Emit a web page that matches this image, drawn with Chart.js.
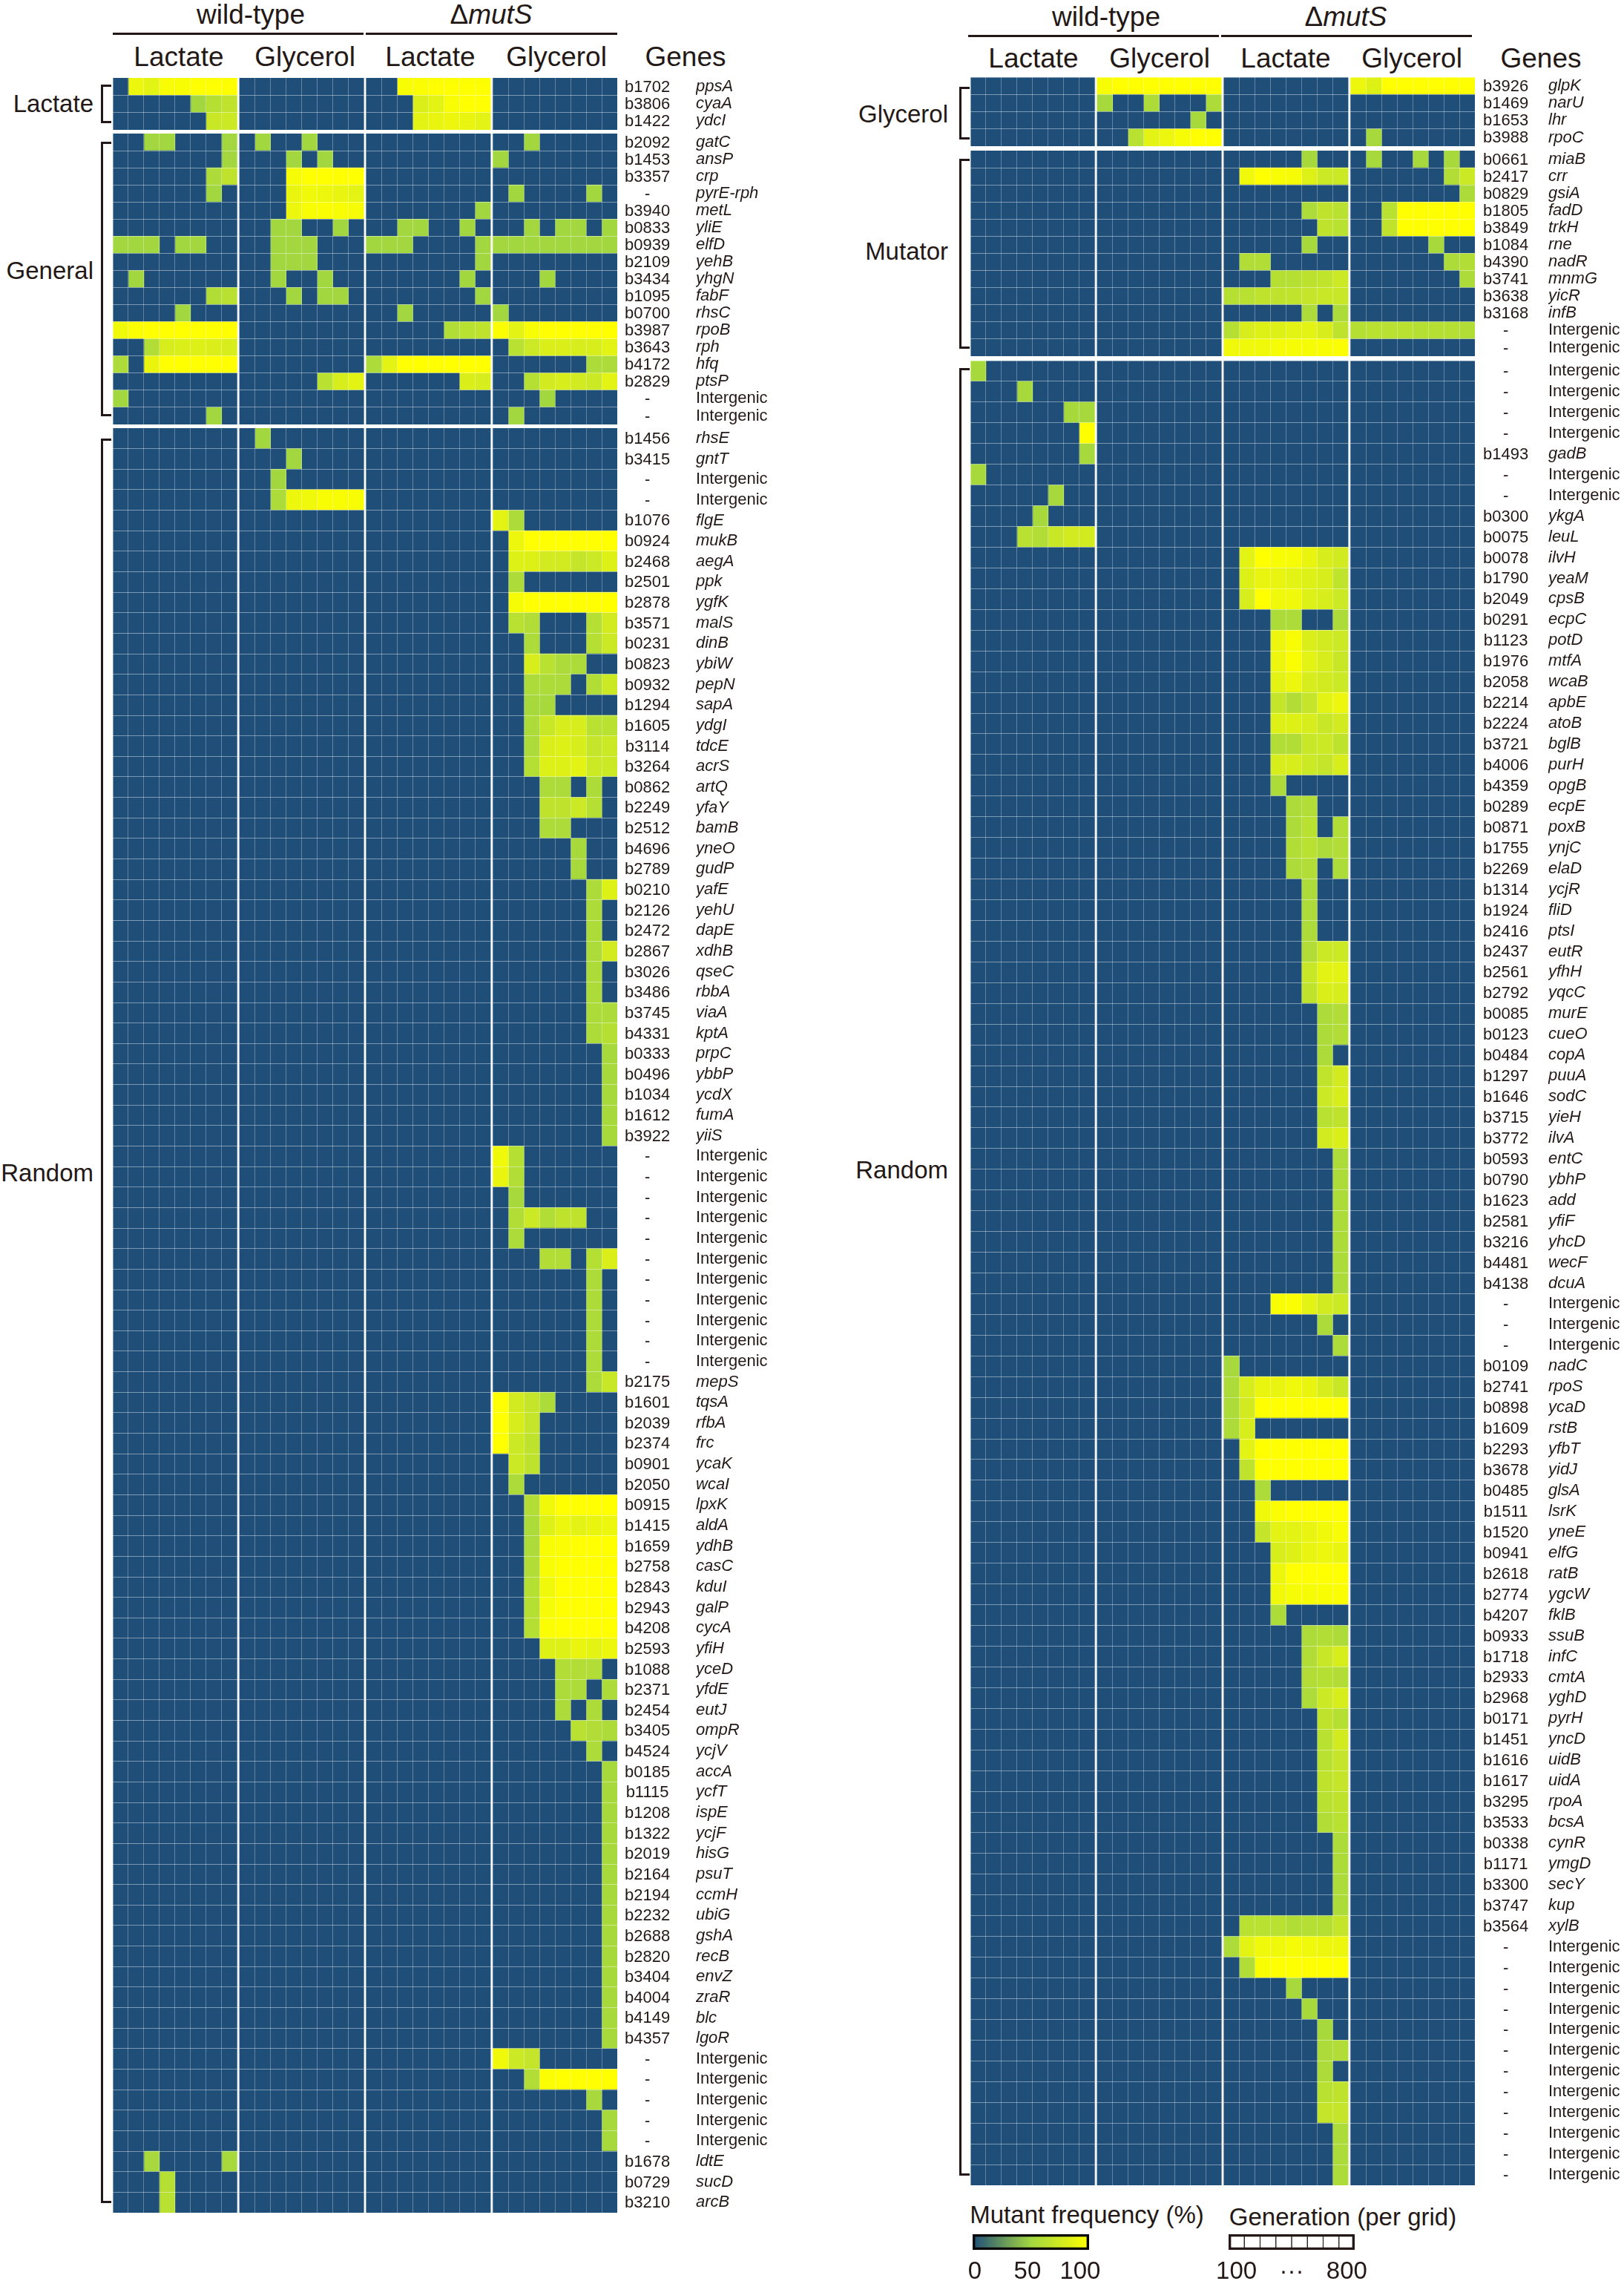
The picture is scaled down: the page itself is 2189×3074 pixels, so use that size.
<!DOCTYPE html>
<html>
<head>
<meta charset="utf-8">
<title>Mutant frequency heatmap</title>
<script src="https://cdn.jsdelivr.net/npm/chart.js@4/dist/chart.umd.min.js"></script>
<style>
    html, body { margin: 0; padding: 0; background: #fff; }
    #page { position: relative; width: 2189px; height: 3074px; overflow: hidden; font-family: "Liberation Sans", Arial, sans-serif; color: #231815; }
    #page canvas { position: absolute; }
    .label { position: absolute; white-space: nowrap; line-height: 1; transform: translate(-50%, -50%); }
    .label.end { transform: translate(-100%, -50%); }
    .rule { position: absolute; background: #231815; }
    .bracket { position: absolute; border: 3px solid #231815; border-right: none; box-sizing: border-box; }
</style>
</head>
<body>
<div id="page"></div>
<script>
// Column numbers in the freq rows: 0-7 wild-type lactate, 8-15 wild-type glycerol,
// 16-23 mutS lactate, 24-31 mutS glycerol. Missing columns are 0 %.

// Left panel, lactate specific
const leftLactateLocus = ['b1702', 'b3806', 'b1422'];
const leftLactateGenes = ['ppsA', 'cyaA', 'ydcI'];
const leftLactateFreq = [
    {1:90,2:85,3:97,4:97,5:100,6:100,7:100,18:97,19:98,20:100,21:100,22:100,23:100},
    {5:50,6:60,7:65,19:80,20:85,21:97,22:100,23:100},
    {6:70,7:72,19:85,20:88,21:90,22:88,23:85}
];

// Left panel, general
const leftGeneralLocus = ['b2092', 'b1453', 'b3357', '-', 'b3940', 'b0833', 'b0939', 'b2109', 'b3434', 'b1095', 'b0700', 'b3987', 'b3643', 'b4172', 'b2829', '-', '-'];
const leftGeneralGenes = ['gatC', 'ansP', 'crp', 'pyrE-rph', 'metL', 'yliE', 'elfD', 'yehB', 'yhgN', 'fabF', 'rhsC', 'rpoB', 'rph', 'hfq', 'ptsP', 'Intergenic', 'Intergenic'];
const leftGeneralFreq = [
    {2:50,3:50,7:50,9:50,12:50,26:50},
    {7:50,11:50,13:50,24:50},
    {6:55,7:65,11:95,12:100,13:100,14:100,15:100},
    {6:50,11:88,12:92,13:90,14:88,15:85,25:50,30:50},
    {11:90,12:97,13:98,14:97,15:95,23:50},
    {10:50,11:50,14:50,18:50,19:50,22:50,26:50,28:50,29:50,31:50},
    {0:50,1:50,2:50,4:50,5:50,10:50,11:50,12:50,16:50,17:50,18:50,23:50,24:50,25:50,26:50,27:50,28:50,29:50,30:50,31:50},
    {10:50,11:50,12:50,23:50},
    {1:50,10:50,13:50,22:50,27:50},
    {6:58,7:62,11:50,13:50,14:50,23:50},
    {4:50,18:50,24:50},
    {0:92,1:98,2:100,3:100,4:100,5:100,6:100,7:100,21:58,22:62,23:65,24:98,25:85,26:97,27:100,28:100,29:100,30:100,31:100},
    {2:58,3:78,4:80,5:82,6:80,7:78,25:62,26:72,27:80,28:80,29:78,30:78,31:85},
    {0:55,2:88,3:100,4:100,5:100,6:100,7:100,16:55,17:85,18:100,19:100,20:100,21:100,22:100,23:100,30:55,31:55},
    {13:62,14:78,15:85,22:80,23:78,26:60,27:75,28:78,29:75,30:72,31:85},
    {0:50,27:50},
    {6:50,25:50}
];

// Left panel, random
const leftRandomLocus = ['b1456', 'b3415', '-', '-', 'b1076', 'b0924', 'b2468', 'b2501', 'b2878', 'b3571', 'b0231', 'b0823', 'b0932', 'b1294', 'b1605', 'b3114', 'b3264', 'b0862', 'b2249', 'b2512', 'b4696', 'b2789', 'b0210', 'b2126', 'b2472', 'b2867', 'b3026', 'b3486', 'b3745', 'b4331', 'b0333', 'b0496', 'b1034', 'b1612', 'b3922', '-', '-', '-', '-', '-', '-', '-', '-', '-', '-', '-', 'b2175', 'b1601', 'b2039', 'b2374', 'b0901', 'b2050', 'b0915', 'b1415', 'b1659', 'b2758', 'b2843', 'b2943', 'b4208', 'b2593', 'b1088', 'b2371', 'b2454', 'b3405', 'b4524', 'b0185', 'b1115', 'b1208', 'b1322', 'b2019', 'b2164', 'b2194', 'b2232', 'b2688', 'b2820', 'b3404', 'b4004', 'b4149', 'b4357', '-', '-', '-', '-', '-', 'b1678', 'b0729', 'b3210'];
const leftRandomGenes = ['rhsE', 'gntT', 'Intergenic', 'Intergenic', 'flgE', 'mukB', 'aegA', 'ppk', 'ygfK', 'malS', 'dinB', 'ybiW', 'pepN', 'sapA', 'ydgI', 'tdcE', 'acrS', 'artQ', 'yfaY', 'bamB', 'yneO', 'gudP', 'yafE', 'yehU', 'dapE', 'xdhB', 'qseC', 'rbbA', 'viaA', 'kptA', 'prpC', 'ybbP', 'ycdX', 'fumA', 'yiiS', 'Intergenic', 'Intergenic', 'Intergenic', 'Intergenic', 'Intergenic', 'Intergenic', 'Intergenic', 'Intergenic', 'Intergenic', 'Intergenic', 'Intergenic', 'mepS', 'tqsA', 'rfbA', 'frc', 'ycaK', 'wcaI', 'lpxK', 'aldA', 'ydhB', 'casC', 'kduI', 'galP', 'cycA', 'yfiH', 'yceD', 'yfdE', 'eutJ', 'ompR', 'ycjV', 'accA', 'ycfT', 'ispE', 'ycjF', 'hisG', 'psuT', 'ccmH', 'ubiG', 'gshA', 'recB', 'envZ', 'zraR', 'blc', 'lgoR', 'Intergenic', 'Intergenic', 'Intergenic', 'Intergenic', 'Intergenic', 'ldtE', 'sucD', 'arcB'];
const leftRandomFreq = [
    {9:50},
    {11:50},
    {10:50},
    {10:55,11:90,12:92,13:97,14:97,15:97},
    {24:85,25:55},
    {25:90,26:100,27:100,28:100,29:100,30:100,31:100},
    {25:82,26:82,27:75,28:75,29:68,30:72,31:82},
    {25:55},
    {25:95,26:100,27:100,28:100,29:100,30:100,31:100},
    {25:62,26:58,30:60,31:75},
    {26:55,30:60,31:72},
    {26:78,27:62,28:55,29:55},
    {26:55,27:55,28:55,30:58,31:72},
    {26:52,27:52},
    {26:55,27:70,28:78,29:78,30:62,31:62},
    {26:55,27:80,28:82,29:78,30:68,31:72},
    {26:60,27:82,28:82,29:85,30:72,31:72},
    {27:55,28:55,30:55},
    {27:65,28:65,29:72,30:60},
    {27:55,28:55},
    {29:52},
    {29:52},
    {30:55,31:82},
    {30:55},
    {30:55},
    {30:55,31:75},
    {30:55},
    {30:55},
    {30:55,31:55},
    {30:55,31:60},
    {31:52},
    {31:52},
    {31:52},
    {31:52},
    {31:52},
    {24:92,25:60},
    {24:88,25:58},
    {25:52},
    {25:58,26:72,27:58,28:65,29:65},
    {25:55},
    {27:58,28:58,30:60,31:80},
    {30:55},
    {30:55},
    {30:55},
    {30:55},
    {30:55},
    {30:55,31:70},
    {24:100,25:75,26:68,27:55},
    {24:100,25:78,26:68},
    {24:100,25:72,26:65},
    {25:72,26:65},
    {25:55},
    {26:58,27:92,28:100,29:100,30:100,31:100},
    {26:55,27:82,28:90,29:85,30:88,31:90},
    {26:55,27:97,28:98,29:100,30:100,31:100},
    {26:58,27:97,28:100,29:100,30:100,31:100},
    {26:60,27:92,28:100,29:100,30:100,31:100},
    {26:60,27:95,28:100,29:100,30:100,31:100},
    {26:60,27:98,28:100,29:100,30:100,31:100},
    {27:82,28:82,29:88,30:85,31:90},
    {28:58,29:58,30:58},
    {28:55,29:55,31:55},
    {28:55,30:55},
    {29:62,30:58,31:55},
    {30:55},
    {31:52},
    {31:52},
    {31:52},
    {31:52},
    {31:52},
    {31:52},
    {31:52},
    {31:52},
    {31:52},
    {31:52},
    {31:52},
    {31:52},
    {31:52},
    {31:52},
    {24:92,25:72,26:68},
    {26:58,27:98,28:100,29:100,30:100,31:100},
    {30:52},
    {31:52},
    {31:52},
    {2:52,7:52},
    {3:60},
    {3:62}
];

// Right panel, glycerol specific
const rightGlycerolLocus = ['b3926', 'b1469', 'b1653', 'b3988'];
const rightGlycerolGenes = ['glpK', 'narU', 'lhr', 'rpoC'];
const rightGlycerolFreq = [
    {8:97,9:100,10:100,11:100,12:100,13:100,14:100,15:100,24:90,25:82,26:100,27:100,28:100,29:100,30:100,31:100},
    {8:52,11:55,15:55},
    {14:52},
    {10:62,11:85,12:90,13:95,14:100,15:100,25:52}
];

// Right panel, mutator specific
const rightMutatorLocus = ['b0661', 'b2417', 'b0829', 'b1805', 'b3849', 'b1084', 'b4390', 'b3741', 'b3638', 'b3168', '-', '-'];
const rightMutatorGenes = ['miaB', 'crr', 'gsiA', 'fadD', 'trkH', 'rne', 'nadR', 'mnmG', 'yicR', 'infB', 'Intergenic', 'Intergenic'];
const rightMutatorFreq = [
    {21:52,25:52,28:52,30:52},
    {17:92,18:100,19:97,20:95,21:82,22:72,23:72,30:58,31:72},
    {31:55},
    {21:55,22:65,23:62,26:62,27:100,28:100,29:100,30:100,31:100},
    {22:65,23:62,26:65,27:100,28:100,29:100,30:100,31:100},
    {21:52,29:52},
    {17:58,18:58,30:55,31:58},
    {19:60,20:60,21:64,22:66,23:72,31:55},
    {16:60,17:62,18:65,19:65,20:66,21:68,22:70,23:70},
    {21:55,23:55},
    {16:60,17:78,18:82,19:82,20:85,21:85,22:78,23:65,24:60,25:62,26:62,27:62,28:60,29:60,30:60,31:58},
    {16:92,17:92,18:92,19:95,20:95,21:95,22:97,23:98}
];

// Right panel, random
const rightRandomLocus = ['-', '-', '-', '-', 'b1493', '-', '-', 'b0300', 'b0075', 'b0078', 'b1790', 'b2049', 'b0291', 'b1123', 'b1976', 'b2058', 'b2214', 'b2224', 'b3721', 'b4006', 'b4359', 'b0289', 'b0871', 'b1755', 'b2269', 'b1314', 'b1924', 'b2416', 'b2437', 'b2561', 'b2792', 'b0085', 'b0123', 'b0484', 'b1297', 'b1646', 'b3715', 'b3772', 'b0593', 'b0790', 'b1623', 'b2581', 'b3216', 'b4481', 'b4138', '-', '-', '-', 'b0109', 'b2741', 'b0898', 'b1609', 'b2293', 'b3678', 'b0485', 'b1511', 'b1520', 'b0941', 'b2618', 'b2774', 'b4207', 'b0933', 'b1718', 'b2933', 'b2968', 'b0171', 'b1451', 'b1616', 'b1617', 'b3295', 'b3533', 'b0338', 'b1171', 'b3300', 'b3747', 'b3564', '-', '-', '-', '-', '-', '-', '-', '-', '-', '-', '-', '-'];
const rightRandomGenes = ['Intergenic', 'Intergenic', 'Intergenic', 'Intergenic', 'gadB', 'Intergenic', 'Intergenic', 'ykgA', 'leuL', 'ilvH', 'yeaM', 'cpsB', 'ecpC', 'potD', 'mtfA', 'wcaB', 'apbE', 'atoB', 'bglB', 'purH', 'opgB', 'ecpE', 'poxB', 'ynjC', 'elaD', 'ycjR', 'fliD', 'ptsI', 'eutR', 'yfhH', 'yqcC', 'murE', 'cueO', 'copA', 'puuA', 'sodC', 'yieH', 'ilvA', 'entC', 'ybhP', 'add', 'yfiF', 'yhcD', 'wecF', 'dcuA', 'Intergenic', 'Intergenic', 'Intergenic', 'nadC', 'rpoS', 'ycaD', 'rstB', 'yfbT', 'yidJ', 'glsA', 'lsrK', 'yneE', 'elfG', 'ratB', 'ygcW', 'fklB', 'ssuB', 'infC', 'cmtA', 'yghD', 'pyrH', 'yncD', 'uidB', 'uidA', 'rpoA', 'bcsA', 'cynR', 'ymgD', 'secY', 'kup', 'xylB', 'Intergenic', 'Intergenic', 'Intergenic', 'Intergenic', 'Intergenic', 'Intergenic', 'Intergenic', 'Intergenic', 'Intergenic', 'Intergenic', 'Intergenic', 'Intergenic'];
const rightRandomFreq = [
    {0:52},
    {3:52},
    {6:52,7:52},
    {7:100},
    {7:52},
    {0:52},
    {5:52},
    {4:52},
    {3:62,4:58,5:70,6:75,7:75},
    {17:85,18:100,19:97,20:95,21:88,22:78,23:75},
    {17:82,18:88,19:88,20:85,21:82,22:78,23:66},
    {17:78,18:100,19:92,20:92,21:82,22:78,23:72},
    {19:55,20:55,23:55},
    {19:90,20:97,21:80,22:75,23:72},
    {19:90,20:98,21:85,22:78,23:70},
    {19:85,20:90,21:78,22:75,23:72},
    {19:68,20:58,21:68,22:85,23:90},
    {19:82,20:82,21:78,22:70,23:75},
    {19:58,20:58,21:70,22:72,23:65},
    {19:78,20:78,21:72,22:68,23:78},
    {19:55},
    {20:55,21:58},
    {20:55,21:62,23:58},
    {20:58,21:62,22:55,23:58},
    {20:55,21:58,23:55},
    {21:55},
    {21:55},
    {21:55},
    {21:58,22:72,23:72},
    {21:70,22:85,23:85},
    {21:65,22:80,23:78},
    {22:55,23:58},
    {22:55,23:58},
    {22:55},
    {22:66,23:75},
    {22:72,23:78},
    {22:62,23:65},
    {22:75,23:80},
    {23:55},
    {23:55},
    {23:55},
    {23:55},
    {23:55},
    {23:55},
    {23:55},
    {19:97,20:98,21:85,22:75,23:72},
    {22:55},
    {23:55},
    {16:52},
    {16:55,17:78,18:88,19:88,20:92,21:88,22:78,23:70},
    {16:55,17:75,18:100,19:100,20:100,21:100,22:100,23:100},
    {16:55,17:78},
    {17:85,18:100,19:100,20:100,21:100,22:100,23:100},
    {17:65,18:100,19:100,20:100,21:100,22:100,23:100},
    {18:55},
    {18:92,19:98,20:100,21:100,22:100,23:100},
    {18:68,19:85,20:85,21:88,22:92,23:97},
    {19:78,20:82,21:88,22:90,23:88},
    {19:90,20:100,21:100,22:100,23:100},
    {19:92,20:95,21:95,22:97,23:98},
    {19:55},
    {21:55,22:58,23:55},
    {21:58,22:70,23:78},
    {21:58,22:60,23:58},
    {21:55,22:72,23:78},
    {22:65,23:60},
    {22:62,23:75},
    {22:62,23:68},
    {22:65,23:68},
    {22:62,23:65},
    {22:58,23:62},
    {23:55},
    {23:55},
    {23:55},
    {23:55},
    {17:62,18:62,19:62,20:58,21:60,22:60,23:68},
    {16:55,17:85,18:92,19:92,20:95,21:92,22:90,23:90},
    {17:58,18:97,19:100,20:100,21:100,22:100,23:100},
    {20:52},
    {21:52},
    {22:52},
    {22:55,23:58},
    {22:55},
    {22:62,23:65},
    {22:68,23:68},
    {23:55},
    {23:55},
    {23:55}
];

// Legend
const freqTicks = [0, 50, 100];
const generations = [100, 200, 300, 400, 500, 600, 700, 800];
const generationTickLabels = ['100', '···', '800'];

const INK = '#231815';
const NAVY = [31, 78, 121];
const GREEN = [163, 215, 64];
const YELLOW = [255, 255, 0];
const COLS_PER_GROUP = 8;
const GROUP_GAP = 0.143;  // white gap between conditions, in columns

const page = document.getElementById('page');

// Navy at 0, green at 50, yellow at 100
function freqColor(v) {
    const from = v < 50 ? NAVY : GREEN;
    const to = v < 50 ? GREEN : YELLOW;
    const t = v < 50 ? v / 50 : (v - 50) / 50;
    const mix = from.map((c, i) => Math.round(c + (to[i] - c) * t));
    return `rgb(${mix[0]},${mix[1]},${mix[2]})`;
}

function columnStart(col) {
    return col + Math.floor(col / COLS_PER_GROUP) * GROUP_GAP;
}

function addCanvas(left, top, width, height) {
    const canvas = document.createElement('canvas');
    canvas.width = width;
    canvas.height = height;
    canvas.style.left = left + 'px';
    canvas.style.top = top + 'px';
    canvas.style.width = width + 'px';
    canvas.style.height = height + 'px';
    page.appendChild(canvas);
    return canvas;
}

function addLabel(html, x, y, size, end) {
    const el = document.createElement('div');
    el.className = end ? 'label end' : 'label';
    el.innerHTML = html;
    el.style.left = x + 'px';
    el.style.top = y + 'px';
    el.style.fontSize = size + 'px';
    page.appendChild(el);
}

function addRule(x1, x2, y) {
    const el = document.createElement('div');
    el.className = 'rule';
    el.style.left = x1 + 'px';
    el.style.top = (y - 1.5) + 'px';
    el.style.width = (x2 - x1) + 'px';
    el.style.height = '3px';
    page.appendChild(el);
}

function addBracket(x1, x2, y1, y2) {
    const el = document.createElement('div');
    el.className = 'bracket';
    el.style.left = x1 + 'px';
    el.style.top = y1 + 'px';
    el.style.width = (x2 - x1) + 'px';
    el.style.height = (y2 - y1) + 'px';
    page.appendChild(el);
}

// Row labels overhang a short block, keep the plot area at the full canvas height
function fitAxis(scale, width) {
    scale.width = width;
    scale.paddingTop = 0;
    scale.paddingBottom = 0;
}

// One heatmap block: floating horizontal bars, one dataset per generation column
function drawBlock(left, top, bottom, locus, genes, freq, locusWidth, nameWidth, locusPad) {
    const canvas = addCanvas(left, top, 680 + locusWidth + nameWidth, bottom - top);
    const totalCols = COLS_PER_GROUP * 4;
    const datasets = [];
    for (let col = 0; col < totalCols; col++) {
        datasets.push({
            data: freq.map(() => [columnStart(col), columnStart(col) + 1]),
            backgroundColor: freq.map(row => freqColor(row[col] || 0)),
            barPercentage: 1,
            categoryPercentage: 1,
            grouped: false
        });
    }
    const edges = [];
    for (let g = 0; g < 4; g++) {
        for (let c = 0; c <= COLS_PER_GROUP; c++) {
            edges.push({ value: g * (COLS_PER_GROUP + GROUP_GAP) + c });
        }
    }
    new Chart(canvas, {
        type: 'bar',
        data: { labels: locus, datasets: datasets },
        options: {
            indexAxis: 'y',
            responsive: false,
            animation: false,
            devicePixelRatio: 1,
            events: [],
            layout: { padding: 0 },
            plugins: { legend: { display: false }, tooltip: { enabled: false } },
            scales: {
                x: {
                    type: 'linear',
                    min: 0,
                    max: columnStart(totalCols - 1) + 1,
                    afterBuildTicks: scale => { scale.ticks = edges; },
                    ticks: { display: false },
                    border: { display: false },
                    grid: { color: 'rgba(255,255,255,0.3)', lineWidth: 1, drawTicks: false, z: 1 }
                },
                y: {
                    type: 'category',
                    position: 'right',
                    weight: 0,
                    offset: true,
                    afterFit: scale => fitAxis(scale, locusWidth),
                    ticks: {
                        autoSkip: false,
                        padding: locusPad,
                        labelOffset: 1,
                        crossAlign: 'center',
                        color: INK,
                        font: { family: 'Liberation Sans', size: 22 }
                    },
                    border: { display: false },
                    grid: { offset: true, color: 'rgba(255,255,255,0.42)', lineWidth: 1, drawTicks: false, z: 1 }
                },
                name: {
                    type: 'category',
                    axis: 'y',
                    position: 'right',
                    weight: 1,
                    offset: true,
                    labels: genes,
                    afterFit: scale => fitAxis(scale, nameWidth),
                    ticks: {
                        autoSkip: false,
                        padding: 0,
                        crossAlign: 'near',
                        color: INK,
                        font: ctx => ({
                            family: 'Liberation Sans',
                            size: 22,
                            style: genes[ctx.index] === 'Intergenic' ? 'normal' : 'italic'
                        })
                    },
                    border: { display: false },
                    grid: { display: false, drawTicks: false }
                }
            }
        }
    });
}

// Small strip used by both legends
function drawStrip(left, top, width, areaHeight, pad, xMin, xMax, tickValues, tickLabels, datasets) {
    const canvas = addCanvas(left, top, width, 63);
    new Chart(canvas, {
        type: 'bar',
        data: { labels: [''], datasets: datasets },
        options: {
            indexAxis: 'y',
            responsive: false,
            animation: false,
            devicePixelRatio: 1,
            events: [],
            layout: { padding: { left: pad, right: pad, top: 0, bottom: 0 } },
            plugins: { legend: { display: false }, tooltip: { enabled: false } },
            scales: {
                y: { display: false },
                x: {
                    type: 'linear',
                    min: xMin,
                    max: xMax,
                    afterBuildTicks: scale => { scale.ticks = tickValues.map(v => ({ value: v })); },
                    afterFit: scale => { scale.height = 63 - areaHeight; },
                    border: { display: false },
                    grid: { display: false },
                    ticks: {
                        autoSkip: false,
                        maxRotation: 0,
                        padding: 2,
                        color: INK,
                        font: { family: 'Liberation Sans', size: 33 },
                        callback: (value, index) => tickLabels[index]
                    }
                }
            }
        }
    });
}

function drawHeaders(g1, g2, g3, g4, genesX, wtX, mutX, ruleA, ruleB, ruleY, titleY, subY) {
    addLabel('wild-type', wtX, titleY, 37);
    addLabel('&Delta;<i>mutS</i>', mutX, titleY, 37);
    addRule(ruleA[0], ruleA[1], ruleY);
    addRule(ruleB[0], ruleB[1], ruleY);
    addLabel('Lactate', g1, subY, 37);
    addLabel('Glycerol', g2, subY, 37);
    addLabel('Lactate', g3, subY, 37);
    addLabel('Glycerol', g4, subY, 37);
    addLabel('Genes', genesX, subY, 37);
}

// Left panel
drawHeaders(241, 411, 580, 750, 924, 338, 662, [152, 490], [493, 832], 45.5, 19, 76);
drawBlock(152, 105, 175, leftLactateLocus, leftLactateGenes, leftLactateFreq, 106, 110, 10);
drawBlock(152, 180, 572, leftGeneralLocus, leftGeneralGenes, leftGeneralFreq, 106, 110, 10);
drawBlock(152, 577, 2982, leftRandomLocus, leftRandomGenes, leftRandomFreq, 106, 110, 10);
addLabel('Lactate', 126, 139, 33, true);
addLabel('General', 126, 364, 33, true);
addLabel('Random', 126, 1580, 33, true);
addBracket(136, 150, 114, 166);
addBracket(136, 150, 191, 561);
addBracket(136, 150, 591, 2969);

// Right panel
drawHeaders(1393, 1563, 1733, 1903, 2077, 1491, 1814, [1305, 1643], [1646, 1984], 48.6, 22, 78);
drawBlock(1308, 104, 197, rightGlycerolLocus, rightGlycerolGenes, rightGlycerolFreq, 99, 102, 11);
drawBlock(1308, 203, 480, rightMutatorLocus, rightMutatorGenes, rightMutatorFreq, 99, 102, 11);
drawBlock(1308, 486, 2945, rightRandomLocus, rightRandomGenes, rightRandomFreq, 99, 102, 11);
addLabel('Glycerol', 1278, 153, 33, true);
addLabel('Mutator', 1278, 338, 33, true);
addLabel('Random', 1278, 1576, 33, true);
addBracket(1293, 1307, 117, 188);
addBracket(1293, 1307, 214, 470);
addBracket(1293, 1307, 496, 2932);

// Frequency legend: axis runs a little past the bar so the ticks sit inside it, as drawn
const FREQ_AXIS_MIN = -2;
const FREQ_AXIS_MAX = 108.5;
const freqLegend = [{
    data: [[FREQ_AXIS_MIN, FREQ_AXIS_MAX]],
    backgroundColor: 'rgba(0,0,0,0)',
    borderColor: '#000',
    borderWidth: 3,
    borderSkipped: false,
    barPercentage: 1,
    categoryPercentage: 1,
    grouped: false,
    order: 0
}];
for (let pct = 0; pct < 100; pct += 1) {
    const span = (FREQ_AXIS_MAX - FREQ_AXIS_MIN) / 100;
    freqLegend.push({
        data: [[FREQ_AXIS_MIN + pct * span, FREQ_AXIS_MIN + (pct + 1) * span]],
        backgroundColor: freqColor(pct + 0.5),
        barPercentage: 1,
        categoryPercentage: 1,
        grouped: false,
        order: 1
    });
}
addLabel('Mutant frequency (%)', 1465, 2984, 33);
drawStrip(1281, 3011, 217, 21, 30, FREQ_AXIS_MIN, FREQ_AXIS_MAX, freqTicks, freqTicks.map(String), freqLegend);

// Generation legend: one empty box per generation step
const generationLegend = [{
    data: [[0, generations.length]],
    backgroundColor: 'rgba(0,0,0,0)',
    borderColor: INK,
    borderWidth: 3,
    borderSkipped: false,
    barPercentage: 1,
    categoryPercentage: 1,
    grouped: false,
    order: 0
}];
generations.forEach((gen, i) => {
    generationLegend.push({
        label: String(gen),
        data: [[i, i + 1]],
        backgroundColor: '#fff',
        borderColor: INK,
        borderWidth: 1,
        borderSkipped: false,
        barPercentage: 1,
        categoryPercentage: 1,
        grouped: false,
        order: 1
    });
});
addLabel('Generation (per grid)', 1810, 2987, 33);
drawStrip(1626, 3011, 230, 21, 30, 0, generations.length, [0.5, 4, 7.5], generationTickLabels, generationLegend);
</script>
</body>
</html>
